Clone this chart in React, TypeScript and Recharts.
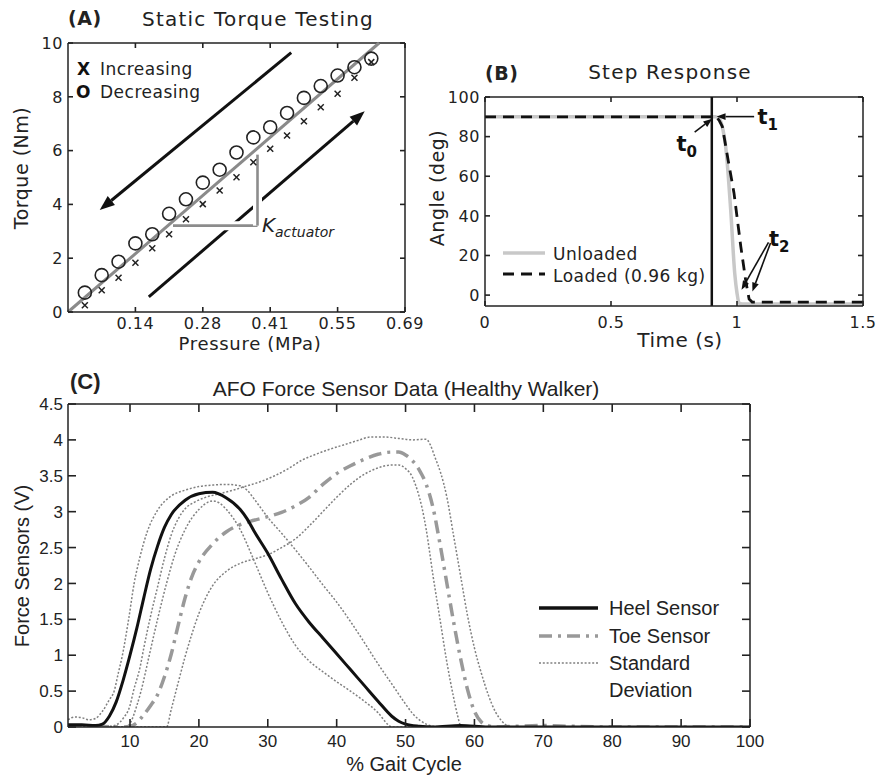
import React from 'react';
import {
  ComposedChart, Line, Scatter, XAxis, YAxis, ReferenceLine, ReferenceDot, Legend,
} from 'recharts';

// ---------- (A) Static torque testing ----------
// pressure steps of 5 psi, in MPa
const pressureMPa = [0.0345, 0.069, 0.1035, 0.138, 0.1725, 0.207, 0.2415, 0.276, 0.3105, 0.345, 0.3795, 0.414, 0.4485, 0.483, 0.5175, 0.552, 0.5865, 0.621];
const torqueIncreasing = [0.25, 0.81, 1.27, 1.83, 2.37, 2.89, 3.45, 4.01, 4.52, 5.01, 5.57, 6.07, 6.56, 7.09, 7.61, 8.11, 8.71, 9.29];
const torqueDecreasing = [0.72, 1.37, 1.87, 2.55, 2.89, 3.65, 4.19, 4.81, 5.29, 5.93, 6.49, 6.87, 7.4, 7.96, 8.4, 8.79, 9.1, 9.42];
const pressureDomain = [0, 0.69];
const torqueDomain = [0, 10];
const pressureTicks = [0.138, 0.276, 0.414, 0.552, 0.69];
const pressureTickLabels = ['0.14', '0.28', '0.41', '0.55', '0.69'];
const torqueTicks = [0, 2, 4, 6, 8, 10];
const stiffnessFit = [[0, 0], [0.637, 10]];
const unloadingArrow = [[0.457, 9.64], [0.065, 3.79]];
const loadingArrow = [[0.1655, 0.56], [0.6075, 7.46]];
const slopeRun = [[0.215, 3.21], [0.388, 3.21]];
const slopeRise = [[0.388, 3.21], [0.388, 5.85]];
const kLabelAt = [0.397, 2.99];

// ---------- (B) Step response ----------
const timeDomain = [0, 1.5];
const angleDomain = [-5.5, 100];
const timeTicks = [0, 0.5, 1, 1.5];
const angleTicks = [0, 20, 40, 60, 80, 100];
const unloadedTime = [0, 0.915, 0.93, 0.945, 0.955, 0.975, 0.991, 1.0, 1.008, 1.02, 1.5];
const unloadedAngle = [90, 90, 89, 83, 75, 43, 11, 1, -4, -4.5, -4.5];
const loadedTime = [0, 0.9, 0.915, 0.93, 0.942, 0.965, 0.988, 1.015, 1.035, 1.048, 1.06, 1.5];
const loadedAngle = [90, 90, 90.5, 88, 85, 68, 51.6, 24.6, 7, -2, -3.5, -3.5];
const stepOnset = 0.9;
const t0At = [0.76, 72.7];
const t0Arrow = [[0.832, 82.3], [0.902, 89]];
const t1At = [1.081, 86.2];
const t1Arrow = [[1.068, 90.1], [0.919, 90.1]];
const t2At = [1.127, 24.6];
const t2ArrowA = [[1.125, 26.6], [1.018, 2.7]];
const t2ArrowB = [[1.133, 26.3], [1.061, 1.8]];

// ---------- (C) AFO force sensor data ----------
const gaitDomain = [1, 100];
const forceDomain = [0, 4.5];
const gaitTicks = [10, 20, 30, 40, 50, 60, 70, 80, 90, 100];
const forceTicks = [0, 0.5, 1, 1.5, 2, 2.5, 3, 3.5, 4, 4.5];
const heelSensor = [
  [1, 0.03], [3, 0.03], [5, 0.02], [6, 0.04], [7, 0.15], [8, 0.35], [9, 0.65], [10, 1.0], [11, 1.38], [12, 1.8],
  [13, 2.2], [14, 2.52], [15, 2.78], [16, 2.96], [18, 3.16], [20, 3.25], [22, 3.27], [24, 3.19], [26, 3.03], [27, 2.9],
  [28, 2.73], [30, 2.42], [32, 2.06], [34, 1.72], [36, 1.46], [38, 1.24], [40, 1.02], [42, 0.8], [44, 0.58], [46, 0.36],
  [48, 0.15], [49, 0.08], [50, 0.04], [52, 0.01], [54, 0], [58, 0.02], [62, 0], [100, 0],
];
const toeSensor = [
  [1, 0.01], [5, 0.01], [9, 0], [10, 0.01], [11, 0.06], [12, 0.17], [13, 0.3], [14, 0.45], [15, 0.7], [16, 1.02],
  [17, 1.42], [18, 1.8], [19, 2.1], [20, 2.3], [22, 2.55], [24, 2.72], [26, 2.82], [28, 2.88], [30, 2.93], [32, 2.99],
  [34, 3.08], [36, 3.2], [38, 3.38], [40, 3.53], [42, 3.64], [44, 3.73], [46, 3.8], [48, 3.83], [49, 3.83], [50, 3.79],
  [51, 3.71], [52, 3.58], [53, 3.38], [54, 3.05], [55, 2.55], [56, 2.0], [57, 1.45], [58, 0.95], [59, 0.52], [60, 0.22],
  [61, 0.07], [62, 0.02], [63, 0], [66, 0.01], [70, 0.02], [74, 0.01], [80, 0], [100, 0],
];
const heelUpperSD = [
  [1, 0.1], [2, 0.14], [3, 0.13], [4, 0.1], [5, 0.12], [6, 0.22], [7, 0.38], [7.7, 0.5], [8.3, 0.75], [8.9, 1.0],
  [9.8, 1.5], [10.6, 2.0], [11.4, 2.35], [12.5, 2.72], [14, 3.02], [16, 3.22], [18, 3.3], [20, 3.35], [22, 3.37], [24, 3.38],
  [26, 3.36], [27, 3.3], [28, 3.18], [29, 3.05], [30, 2.92], [32, 2.7], [34, 2.47], [36, 2.23], [38, 1.98], [40, 1.74],
  [42, 1.47], [44, 1.18], [46, 0.88], [48, 0.6], [50, 0.32], [51, 0.19], [52, 0.1], [53, 0.04], [54, 0.01], [56, 0], [100, 0],
];
const heelLowerSD = [
  [1, 0.02], [4, 0.01], [7, 0], [9.5, 0], [10, 0.05], [11, 0.3], [11.6, 0.5], [12.8, 1.0], [14, 1.5], [15.3, 2.0],
  [16.5, 2.4], [18, 2.75], [20, 3.03], [21.5, 3.14], [22, 3.15], [23, 3.12], [24, 3.03], [26, 2.75], [28, 2.32], [30, 1.87],
  [32, 1.47], [34, 1.14], [36, 0.92], [38, 0.77], [40, 0.63], [42, 0.5], [44, 0.36], [46, 0.2], [47.5, 0.03], [48, 0], [100, 0],
];
const toeUpperSD = [
  [1, 0.02], [5, 0.02], [7, 0.01], [8, 0.03], [9, 0.12], [10, 0.3], [10.5, 0.5], [11.5, 0.85], [12, 1.1], [13, 1.55],
  [14, 1.95], [15, 2.35], [16, 2.68], [17, 2.9], [18, 3.04], [19.5, 3.14], [21, 3.2], [23, 3.25], [25, 3.3], [27, 3.36],
  [29, 3.42], [31, 3.5], [33, 3.6], [35, 3.72], [37, 3.8], [39, 3.87], [41, 3.93], [43, 3.99], [45, 4.04], [47, 4.04],
  [49, 4.02], [51, 4.0], [53, 4.01], [53.6, 3.93], [54.3, 3.75], [55.1, 3.54], [56, 3.2], [57, 2.65], [58, 2.1], [59, 1.55],
  [60, 1.1], [61, 0.75], [62, 0.45], [63, 0.22], [64, 0.08], [65, 0.01], [66, 0], [100, 0],
];
const toeLowerSD = [
  [1, 0.01], [14, 0], [15.3, 0], [16, 0.25], [17, 0.62], [18, 0.98], [19, 1.3], [20, 1.58], [21, 1.8], [22, 1.97],
  [24, 2.17], [26, 2.28], [28, 2.34], [30, 2.4], [32, 2.5], [34, 2.62], [36, 2.8], [38, 3.0], [40, 3.2], [42, 3.38],
  [44, 3.52], [46, 3.61], [48, 3.65], [49, 3.65], [50, 3.6], [51, 3.48], [51.7, 3.3], [52.4, 3.05], [53, 2.75], [54, 2.1],
  [55, 1.5], [56, 0.9], [57, 0.4], [57.5, 0.18], [58, 0.02], [58.5, 0], [100, 0],
];

const INK = '#222';
const FONT_AB = '"DejaVu Sans", Verdana, sans-serif';
const FONT_C = '"Liberation Sans", Arial, sans-serif';

const seg = (pts: number[][]) => pts.map(([x, y]) => ({ x, y }));
const gaitRows = (pts: number[][]) => pts.map(([g, v]) => ({ g, v }));

type TickStyle = { len: number; gap: number; font: string; size: number; spacing?: number; fmt: (v: number) => string };

const bottomTick = (s: TickStyle) => (props: any) => {
  const { x, y, payload } = props;
  return (
    <g>
      <line x1={x} y1={y} x2={x} y2={y - s.len} stroke={INK} strokeWidth={1.6} />
      <text x={x} y={y + s.gap} textAnchor="middle" fontFamily={s.font} fontSize={s.size}
        letterSpacing={s.spacing || 0} fill={INK}>{s.fmt(payload.value)}</text>
    </g>
  );
};

const leftTick = (s: TickStyle) => (props: any) => {
  const { x, y, payload } = props;
  return (
    <g>
      <line x1={x} y1={y} x2={x + s.len} y2={y} stroke={INK} strokeWidth={1.6} />
      <text x={x - s.gap} y={y + s.size * 0.36} textAnchor="end" fontFamily={s.font} fontSize={s.size}
        letterSpacing={s.spacing || 0} fill={INK}>{s.fmt(payload.value)}</text>
    </g>
  );
};

// top and right edges of the box, with inward ticks (MATLAB style).
// tick positions follow the line's scaled end points.
const topBorder = (ticks: number[], d: number[], len: number) => (p: any) => {
  const l = Math.min(p.x1, p.x2);
  const r = Math.max(p.x1, p.x2);
  const y = p.y1;
  return (
    <g>
      <line x1={l} y1={y} x2={r} y2={y} stroke={INK} strokeWidth={1.5} />
      {ticks.map((v) => {
        const x = l + ((v - d[0]) / (d[1] - d[0])) * (r - l);
        return <line key={v} x1={x} y1={y} x2={x} y2={y + len} stroke={INK} strokeWidth={1.6} />;
      })}
    </g>
  );
};
const rightBorder = (ticks: number[], d: number[], len: number) => (p: any) => {
  const bottom = Math.max(p.y1, p.y2);
  const top = Math.min(p.y1, p.y2);
  const x = p.x1;
  return (
    <g>
      <line x1={x} y1={top} x2={x} y2={bottom} stroke={INK} strokeWidth={1.5} />
      {ticks.map((v) => {
        const y = bottom - ((v - d[0]) / (d[1] - d[0])) * (bottom - top);
        return <line key={v} x1={x} y1={y} x2={x - len} y2={y} stroke={INK} strokeWidth={1.6} />;
      })}
    </g>
  );
};

const boxLine = { stroke: INK, strokeWidth: 1.5 };

// arrow drawn from first to second segment point
const arrowShape = (width: number, head: number) => (p: any) => {
  const { x1, y1, x2, y2 } = p;
  const ang = Math.atan2(y2 - y1, x2 - x1);
  const bx = x2 - head * Math.cos(ang);
  const by = y2 - head * Math.sin(ang);
  const w = head * 0.38;
  const pts = `${x2},${y2} ${bx + w * Math.sin(ang)},${by - w * Math.cos(ang)} ${bx - w * Math.sin(ang)},${by + w * Math.cos(ang)}`;
  return (
    <g>
      <line x1={x1} y1={y1} x2={bx} y2={by} stroke="#111" strokeWidth={width} />
      <polygon points={pts} fill="#111" />
    </g>
  );
};

const haloLine = (p: any) => (
  <g>
    <line x1={p.x1} y1={p.y1} x2={p.x2} y2={p.y2} stroke="#fff" strokeWidth={9} />
    <line x1={p.x1} y1={p.y1} x2={p.x2} y2={p.y2} stroke="#8c8c8c" strokeWidth={2.6} />
  </g>
);

const circleMark = (p: any) => <circle cx={p.cx} cy={p.cy} r={6.5} fill="none" stroke={INK} strokeWidth={1.6} />;
const crossMark = (p: any) => (
  <g stroke={INK} strokeWidth={1.5}>
    <line x1={p.cx - 3} y1={p.cy - 3} x2={p.cx + 3} y2={p.cy + 3} />
    <line x1={p.cx - 3} y1={p.cy + 3} x2={p.cx + 3} y2={p.cy - 3} />
  </g>
);

const tMark = (sub: string) => (p: any) => (
  <text x={p.cx} y={p.cy} fontFamily={FONT_AB} fontWeight="bold" fontSize={21} fill="#111">
    t<tspan fontSize={15} dy={6}>{sub}</tspan>
  </text>
);

const kMark = (p: any) => (
  <text x={p.cx} y={p.cy} fontFamily={FONT_AB} fontStyle="italic" fontSize={20} fill={INK}>
    K<tspan fontSize={14} dy={5}>actuator</tspan>
  </text>
);

const legendA = () => (
  <svg width={150} height={52}>
    <text x={7} y={20} fontFamily={FONT_AB} fontWeight="bold" fontSize={17} fill="#111">X</text>
    <text x={30} y={20} fontFamily={FONT_AB} fontSize={17} letterSpacing={0.5} fill={INK}>Increasing</text>
    <text x={6} y={43} fontFamily={FONT_AB} fontWeight="bold" fontSize={17} fill="#111">O</text>
    <text x={30} y={43} fontFamily={FONT_AB} fontSize={17} letterSpacing={0.5} fill={INK}>Decreasing</text>
  </svg>
);

const legendB = () => (
  <svg width={230} height={50}>
    <line x1={8} y1={13} x2={50} y2={13} stroke="#c8c8c8" strokeWidth={3.5} />
    <text x={58} y={20} fontFamily={FONT_AB} fontSize={17} letterSpacing={0.5} fill={INK}>Unloaded</text>
    <line x1={8} y1={34} x2={50} y2={34} stroke="#111" strokeWidth={2.8} strokeDasharray="11 7" />
    <text x={58} y={42} fontFamily={FONT_AB} fontSize={17} letterSpacing={0.5} fill={INK}>Loaded (0.96 kg)</text>
  </svg>
);

const legendC = () => (
  <svg width={210} height={115}>
    <line x1={4} y1={18} x2={63} y2={18} stroke="#111" strokeWidth={3.5} />
    <text x={74} y={25} fontFamily={FONT_C} fontSize={20} fill={INK}>Heel Sensor</text>
    <line x1={4} y1={46} x2={63} y2={46} stroke="#999" strokeWidth={3.5} strokeDasharray="13 6 3 6" />
    <text x={74} y={53} fontFamily={FONT_C} fontSize={20} fill={INK}>Toe Sensor</text>
    <line x1={4} y1={73} x2={63} y2={73} stroke="#808080" strokeWidth={1.5} strokeDasharray="2 1.8" />
    <text x={74} y={80} fontFamily={FONT_C} fontSize={20} fill={INK}>Standard</text>
    <text x={74} y={107} fontFamily={FONT_C} fontSize={20} fill={INK}>Deviation</text>
  </svg>
);

const abTick = { font: FONT_AB, size: 16, spacing: 0.6 };

function PanelA() {
  const dec = pressureMPa.map((p, i) => ({ p, t: torqueDecreasing[i] }));
  const inc = pressureMPa.map((p, i) => ({ p, t: torqueIncreasing[i] }));
  return (
    <ComposedChart width={440} height={345} margin={{ top: 43, right: 35, bottom: 0, left: 0 }}>
      <XAxis dataKey="p" type="number" domain={pressureDomain} ticks={pressureTicks} interval={0} height={33}
        tickSize={0} tickMargin={0} tickLine={false} axisLine={boxLine} allowDataOverflow
        tick={bottomTick({ ...abTick, len: 5, gap: 16.5, fmt: (v) => pressureTickLabels[pressureTicks.indexOf(v)] })} />
      <YAxis dataKey="t" type="number" domain={torqueDomain} ticks={torqueTicks} interval={0} width={68}
        tickSize={0} tickMargin={0} tickLine={false} axisLine={boxLine} allowDataOverflow
        tick={leftTick({ ...abTick, len: 5, gap: 5, fmt: (v) => String(v) })} />
      <ReferenceLine y={torqueDomain[1]} shape={topBorder(pressureTicks, pressureDomain, 5)} />
      <ReferenceLine x={pressureDomain[1]} shape={rightBorder(torqueTicks, torqueDomain, 5)} />
      <ReferenceLine segment={seg(unloadingArrow)} ifOverflow="visible" shape={arrowShape(3, 15)} />
      <ReferenceLine segment={seg(loadingArrow)} ifOverflow="visible" shape={arrowShape(3, 15)} />
      <ReferenceLine segment={seg(slopeRun)} ifOverflow="visible" shape={haloLine} />
      <ReferenceLine segment={seg(slopeRise)} ifOverflow="visible" shape={haloLine} />
      <ReferenceLine segment={seg(stiffnessFit)} ifOverflow="visible" stroke="#8a8a8a" strokeWidth={3} />
      <ReferenceDot x={kLabelAt[0]} y={kLabelAt[1]} ifOverflow="visible" shape={kMark} />
      <Scatter data={dec} dataKey="t" shape={circleMark} isAnimationActive={false} />
      <Scatter data={inc} dataKey="t" shape={crossMark} isAnimationActive={false} />
      <Legend layout="vertical" align="center" verticalAlign="middle" content={legendA}
        wrapperStyle={{ left: 70, top: 55, width: 150, height: 52 }} />
    </ComposedChart>
  );
}

function PanelB() {
  const unloaded = unloadedTime.map((t, i) => ({ t, a: unloadedAngle[i] }));
  const loaded = loadedTime.map((t, i) => ({ t, a: loadedAngle[i] }));
  return (
    <ComposedChart width={437} height={300} margin={{ top: 47, right: 14, bottom: 0, left: 0 }}>
      <XAxis dataKey="t" type="number" domain={timeDomain} ticks={timeTicks} interval={0} height={44}
        tickSize={0} tickMargin={0} tickLine={false} axisLine={boxLine} allowDataOverflow
        tick={bottomTick({ ...abTick, len: 5, gap: 22, fmt: (v) => String(v) })} />
      <YAxis type="number" domain={angleDomain} ticks={angleTicks} interval={0} width={45}
        tickSize={0} tickMargin={0} tickLine={false} axisLine={boxLine} allowDataOverflow
        tick={leftTick({ ...abTick, len: 5, gap: 5, fmt: (v) => String(v) })} />
      <ReferenceLine y={angleDomain[1]} shape={topBorder(timeTicks, timeDomain, 5)} />
      <ReferenceLine x={timeDomain[1]} shape={rightBorder(angleTicks, angleDomain, 5)} />
      <Line data={unloaded} dataKey="a" type="monotone" stroke="#c8c8c8" strokeWidth={3.5} dot={false} isAnimationActive={false} />
      <Line data={loaded} dataKey="a" type="linear" stroke="#111" strokeWidth={2.8} strokeDasharray="11 7" dot={false} isAnimationActive={false} />
      <ReferenceLine x={stepOnset} stroke="#111" strokeWidth={2.5} />
      <ReferenceLine segment={seg(t0Arrow)} ifOverflow="visible" shape={arrowShape(1.6, 9)} />
      <ReferenceLine segment={seg(t1Arrow)} ifOverflow="visible" shape={arrowShape(1.6, 9)} />
      <ReferenceLine segment={seg(t2ArrowA)} ifOverflow="visible" shape={arrowShape(1.6, 9)} />
      <ReferenceLine segment={seg(t2ArrowB)} ifOverflow="visible" shape={arrowShape(1.6, 9)} />
      <ReferenceDot x={t0At[0]} y={t0At[1]} ifOverflow="visible" shape={tMark('0')} />
      <ReferenceDot x={t1At[0]} y={t1At[1]} ifOverflow="visible" shape={tMark('1')} />
      <ReferenceDot x={t2At[0]} y={t2At[1]} ifOverflow="visible" shape={tMark('2')} />
      <Legend layout="vertical" align="center" verticalAlign="middle" content={legendB}
        wrapperStyle={{ left: 55, top: 190, width: 230, height: 50 }} />
    </ComposedChart>
  );
}

function PanelC() {
  const sd = { type: 'monotone' as const, stroke: '#808080', strokeWidth: 1.5, strokeDasharray: '2 1.8', dot: false, isAnimationActive: false };
  return (
    <ComposedChart width={877} height={420} margin={{ top: 44, right: 127, bottom: 0, left: 0 }}>
      <XAxis dataKey="g" type="number" domain={gaitDomain} ticks={gaitTicks} interval={0} height={53}
        tickSize={0} tickMargin={0} tickLine={false} axisLine={boxLine} allowDataOverflow
        tick={bottomTick({ font: FONT_C, size: 17, len: 8, gap: 20, fmt: (v) => String(v) })} />
      <YAxis type="number" domain={forceDomain} ticks={forceTicks} interval={0} width={68}
        tickSize={0} tickMargin={0} tickLine={false} axisLine={boxLine} allowDataOverflow
        tick={leftTick({ font: FONT_C, size: 17, len: 8, gap: 5, fmt: (v) => String(v) })} />
      <ReferenceLine y={forceDomain[1]} shape={topBorder(gaitTicks, gaitDomain, 8)} />
      <ReferenceLine x={gaitDomain[1]} shape={rightBorder(forceTicks, forceDomain, 8)} />
      <Line data={gaitRows(heelUpperSD)} dataKey="v" {...sd} />
      <Line data={gaitRows(heelLowerSD)} dataKey="v" {...sd} />
      <Line data={gaitRows(toeUpperSD)} dataKey="v" {...sd} />
      <Line data={gaitRows(toeLowerSD)} dataKey="v" {...sd} />
      <Line data={gaitRows(toeSensor)} dataKey="v" type="monotone" stroke="#999" strokeWidth={3.5}
        strokeDasharray="13 6 3 6" dot={false} isAnimationActive={false} />
      <Line data={gaitRows(heelSensor)} dataKey="v" type="monotone" stroke="#111" strokeWidth={3}
        dot={false} isAnimationActive={false} />
      <Legend layout="vertical" align="center" verticalAlign="middle" content={legendC}
        wrapperStyle={{ left: 535, top: 230, width: 210, height: 115 }} />
    </ComposedChart>
  );
}

export default function App() {
  const abText = { fontFamily: FONT_AB, fill: INK };
  const cText = { fontFamily: FONT_C, fill: INK };
  return (
    <div style={{ position: 'absolute', left: 0, top: 0, width: 877, height: 780, background: '#fff', overflow: 'hidden' }}>
      <div style={{ position: 'absolute', left: 0, top: 0 }}><PanelA /></div>
      <div style={{ position: 'absolute', left: 440, top: 50 }}><PanelB /></div>
      <div style={{ position: 'absolute', left: 0, top: 360 }}><PanelC /></div>
      <svg width={877} height={780} style={{ position: 'absolute', left: 0, top: 0, pointerEvents: 'none' }}>
        <text x={68} y={25} {...abText} fontWeight="bold" fontSize={19} letterSpacing={0.5}>(A)</text>
        <text x={258} y={26} {...abText} fontSize={20} letterSpacing={1.2} textAnchor="middle">Static Torque Testing</text>
        <text transform="translate(28,168) rotate(-90)" {...abText} fontSize={19} letterSpacing={0.5} textAnchor="middle">Torque (Nm)</text>
        <text x={250} y={350} {...abText} fontSize={18} letterSpacing={0.7} textAnchor="middle">Pressure (MPa)</text>

        <text x={485} y={80} {...abText} fontWeight="bold" fontSize={19} letterSpacing={0.5}>(B)</text>
        <text x={670} y={79} {...abText} fontSize={20} letterSpacing={1.2} textAnchor="middle">Step Response</text>
        <text transform="translate(444,188) rotate(-90)" {...abText} fontSize={19} letterSpacing={0.5} textAnchor="middle">Angle (deg)</text>
        <text x={680} y={347} {...abText} fontSize={20} letterSpacing={0.5} textAnchor="middle">Time (s)</text>

        <text x={70} y={389} {...cText} fontWeight="bold" fontSize={22}>(C)</text>
        <text x={406} y={396} {...cText} fontSize={21} textAnchor="middle">AFO Force Sensor Data (Healthy Walker)</text>
        <text transform="translate(29,566) rotate(-90)" {...cText} fontSize={20} textAnchor="middle">Force Sensors (V)</text>
        <text x={404} y={771} {...cText} fontSize={20} textAnchor="middle">% Gait Cycle</text>
      </svg>
    </div>
  );
}
